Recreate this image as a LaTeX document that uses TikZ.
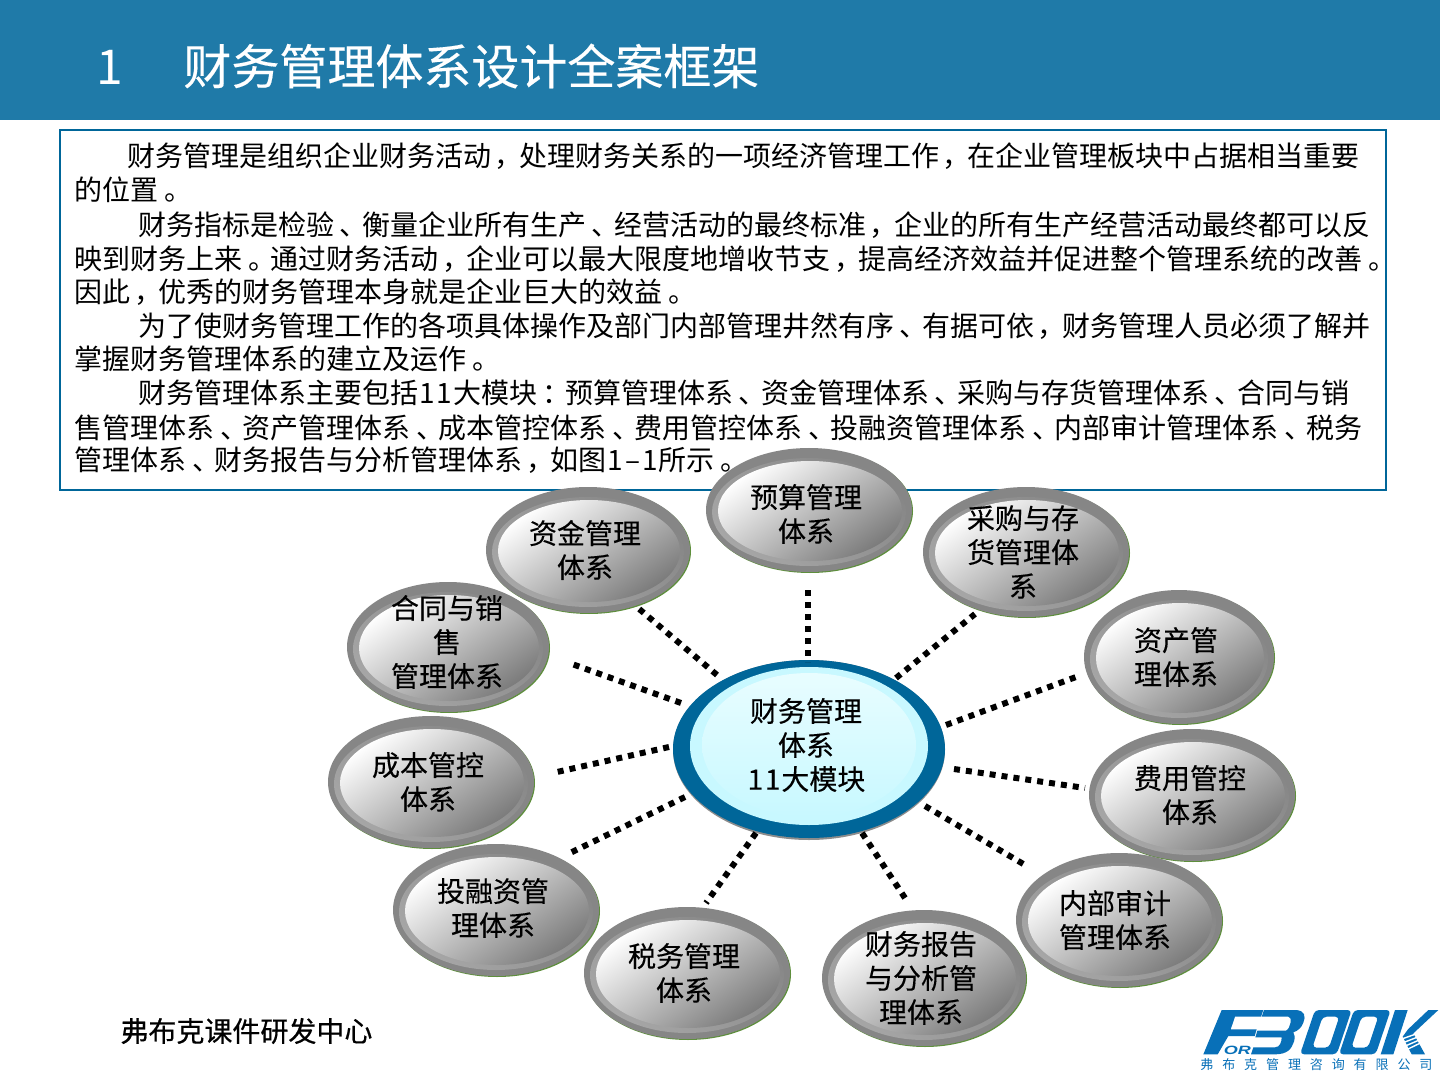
\documentclass[tikz,border=0pt]{standalone}
\usepackage{fontspec}
\setmainfont{Noto Sans CJK SC}
\newfontfamily\logofont{Liberation Sans}
\usetikzlibrary{shapes.geometric}
\definecolor{band}{HTML}{1F7AA8}
\definecolor{deepblue}{HTML}{006699}
\definecolor{logoblue}{HTML}{0870B8}
\definecolor{rimgreen}{HTML}{5E8F3C}
\definecolor{ringgray}{HTML}{868686}
\definecolor{ringlight}{HTML}{A6A6A6}
\definecolor{hubpale}{HTML}{C8F8FF}
\definecolor{hublight}{HTML}{E8FDFF}
\tikzset{
  x=.5pt,y=-.5pt,
  bodytext/.style={anchor=base west,inner sep=0pt,font=\fontsize{14}{17}\selectfont},
  labeltext/.style={align=center,inner sep=0pt,font=\fontsize{14}{17}\selectfont\addfontfeature{FakeBold=0.25}},
  dotline/.style={line width=3pt,dash pattern=on 3pt off 3pt,black},
  ologo/.style={fill=logoblue,even odd rule,rounded corners=2pt},
}
% punctuation sits nearer the middle of its cell, digits are wide
\newcommand{\pc}[1]{\hbox to 1em{\kern.2em #1\hss}}
\newcommand{\pk}[1]{\hbox to 1em{\kern.12em #1\hss}}
\newcommand{\dg}[1]{\hbox to .62em{\hss #1\hss}}
\newcommand{\bodyline}[4]{\node[bodytext] (#1) at (#2,#3) {#4};}
\newcommand{\satell}[8]{%
  \fill[rimgreen] (#2+1,#3+1) ellipse [x radius=#4,y radius=#5+1];
  \fill[ringgray] (#2,#3) ellipse [x radius=#4,y radius=#5+1];
  \shade[top color=ringgray,bottom color=ringlight,shading angle=-40] (#2,#3+2) ellipse [x radius=#4-6,y radius=#5-7];
  \shade[top color=white,middle color=black!13,bottom color=black!52,shading angle=35] (#2+1,#3+1) ellipse [x radius=#4-11,y radius=#5-11];
  \node[labeltext] (#1) at (#6,#7) {#8};
}
\newcommand{\dotted}[3]{%
  \coordinate (#1a) at (#2); \coordinate (#1b) at (#3);
  \draw[dotline] (#1a) -- (#1b);
}
\begin{document}
\begin{tikzpicture}
\useasboundingbox (0,0) rectangle (1440,1080);
\fill[white] (0,0) rectangle (1440,1080);
\fill[band] (0,0) rectangle (1440,120);
\node[inner sep=0pt,text=white,font=\fontsize{24}{28}\selectfont] (num) at (110,67) {1};
\node[inner sep=0pt,anchor=west,text=white,font=\fontsize{24}{28}\selectfont\addfontfeature{FakeBold=0.25}] (title) at (183,66) {财务管理体系设计全案框架};
\node[draw=deepblue,line width=1pt,minimum width=663pt,minimum height=180pt,inner sep=0pt] (box) at (723,310) {};
\bodyline{l1}{127}{167}{财务管理是组织企业财务活动\pk{，}处理财务关系的一项经济管理工作\pk{，}在企业管理板块中占据相当重要}
\bodyline{l2}{74.5}{201}{的位置\pc{。}}
\bodyline{l3}{138}{236}{财务指标是检验\pc{、}衡量企业所有生产\pc{、}经营活动的最终标准\pk{，}企业的所有生产经营活动最终都可以反}
\bodyline{l4}{74.5}{270}{映到财务上来\pc{。}通过财务活动\pk{，}企业可以最大限度地增收节支\pk{，}提高经济效益并促进整个管理系统的改善\pc{。}}
\bodyline{l5}{74.5}{303}{因此\pk{，}优秀的财务管理本身就是企业巨大的效益\pc{。}}
\bodyline{l6}{138}{337}{为了使财务管理工作的各项具体操作及部门内部管理井然有序\pc{、}有据可依\pk{，}财务管理人员必须了解并}
\bodyline{l7}{74.5}{370}{掌握财务管理体系的建立及运作\pc{。}}
\bodyline{l8}{138}{404}{财务管理体系主要包括\dg{1}\dg{1}大模块\pc{：}预算管理体系\pc{、}资金管理体系\pc{、}采购与存货管理体系\pc{、}合同与销}
\bodyline{l9}{74.5}{438}{售管理体系\pc{、}资产管理体系\pc{、}成本管控体系\pc{、}费用管控体系\pc{、}投融资管理体系\pc{、}内部审计管理体系\pc{、}税务}
\bodyline{l10}{74.5}{471}{管理体系\pc{、}财务报告与分析管理体系\pk{，}如图\dg{1}\dg{–}\dg{1}所示\pc{。}}

\satell{s1}{809}{510}{103}{61}{806}{514}{预算管理\\体系}
\satell{s2}{588}{550}{102}{62}{585}{550}{资金管理\\体系}
\satell{s3}{1026}{552}{103}{64}{1023}{552}{采购与存\\货管理体\\系}
\satell{s4}{448}{647}{101}{64}{447}{642}{合同与销\\售\\管理体系}
\satell{s5}{1179}{657}{95}{66}{1176}{657}{资产管\\理体系}
\satell{s6}{431}{782}{103}{65}{428}{782}{成本管控\\体系}
\satell{s7}{1192}{795}{103}{65}{1190}{795}{费用管控\\体系}
\satell{s8}{496}{910}{103}{65}{493}{908}{投融资管\\理体系}
\satell{s9}{1119}{920}{103}{66}{1115}{920}{内部审计\\管理体系}
\satell{s10}{687}{973}{103}{65}{684}{973}{税务管理\\体系}
\satell{s11}{924}{978}{102}{67}{921}{978}{财务报告\\与分析管\\理体系}

\fill[black!45] (809,750) ellipse [x radius=136,y radius=90];
\fill[deepblue] (809,749) ellipse [x radius=136,y radius=89];
\fill[hubpale] (809,746) ellipse [x radius=119,y radius=79];
\shade[top color=hublight,bottom color=hubpale] (809,745) ellipse [x radius=107,y radius=72];
\node[labeltext] (hub) at (806,745) {财务管理\\体系\\\dg{1}\dg{1}大模块};

\dotted{c1}{808,590}{808,662}
\dotted{c2}{896,678}{975,614}
\dotted{c3}{946,725}{1076,677}
\dotted{c4}{954,769}{1085,788}
\dotted{c5}{925,806}{1025,865}
\dotted{c6}{862,833}{905,898}
\dotted{c7}{756,833}{706,903}
\dotted{c8}{685,797}{570,853}
\dotted{c9}{669,747}{557,772}
\dotted{c10}{681,703}{572,664}
\dotted{c11}{717,675}{638,608}

\node[inner sep=0pt,anchor=west,font=\fontsize{14}{17}\selectfont,text=black] (footer) at (120,1031) {\addfontfeature{FakeBold=0.6}弗布克课件研发中心};

\begin{scope}[shift={(1180,1000)},x=.16667pt,y=-.16667pt]
 \fill[logoblue] (125,30) -- (250,30) -- (243,50) -- (165,50) -- (152,88) -- (230,88) -- (224,108) -- (145,108) -- (113,163) -- (70,163) -- cycle;
 \fill[logoblue] (252,30) -- (345,30) .. controls (375,30) and (378,50) .. (370,68) .. controls (365,82) and (355,92) .. (340,97) .. controls (350,110) and (340,140) .. (325,152) .. controls (315,160) and (300,163) .. (285,163) -- (213,163) -- (220,142) -- (285,142) .. controls (300,142) and (305,125) .. (305,112) -- (226,112) -- (232,92) -- (318,92) .. controls (332,85) and (338,50) .. (325,50) -- (245,50) -- cycle;
 \path[ologo] (405,30) -- (515,30) -- (470,163) -- (360,163) -- cycle (428,50) -- (478,50) -- (447,143) -- (397,143) -- cycle;
 \path[ologo] (522,30) -- (632,30) -- (587,163) -- (477,163) -- cycle (545,50) -- (595,50) -- (564,143) -- (514,143) -- cycle;
 \fill[logoblue] (645,30) -- (683,30) -- (640,163) -- (602,163) -- cycle;
 \fill[logoblue] (684,88) -- (745,30) -- (775,30) -- (700,100) -- (735,163) -- (695,163) -- (668,110) -- cycle;
 \foreach \k in {0,1,2,3} \draw[white,line width=.7pt] (668+\k*4,116+\k*11) -- (722-\k*1,97+\k*11);
 \node[inner sep=0pt,text=logoblue,xscale=1.5,transform shape,font=\logofont\bfseries\itshape\fontsize{6}{6}\selectfont] (orlabel) at (172,152) {OR};
\end{scope}
\node[inner sep=0pt,anchor=base west,text=logoblue,font=\fontsize{6.5}{7}\selectfont] (logotext) at (1200,1069) {\hbox to 116pt{弗\hfil 布\hfil 克\hfil 管\hfil 理\hfil 咨\hfil 询\hfil 有\hfil 限\hfil 公\hfil 司}};
\end{tikzpicture}
\end{document}
